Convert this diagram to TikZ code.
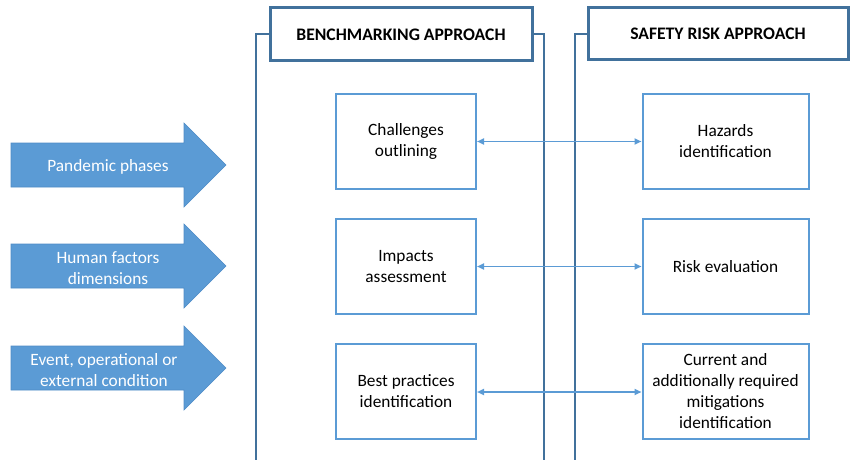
\documentclass[tikz,border=0pt]{standalone}
\usepackage{fontspec}
\setmainfont{Carlito}
\usetikzlibrary{arrows.meta}
\definecolor{hdrblue}{HTML}{41719C}
\definecolor{boxblue}{HTML}{5B9BD5}
\definecolor{arrowfill}{HTML}{5B9BD5}
\definecolor{arrowedge}{HTML}{4F8CC6}
\begin{document}
\begin{tikzpicture}[x=1pt,y=-1pt,
  txt/.style={font=\fontsize{17.3}{21}\selectfont, align=center},
  header/.style={draw=hdrblue, line width=3pt, fill=white, inner sep=0pt,
    font=\fontsize{17.6}{20}\selectfont\bfseries},
  stagebox/.style={draw=boxblue, line width=2pt, fill=white, inner sep=0pt, txt},
  bracket/.style={draw=hdrblue, line width=2pt},
  link/.style={draw=boxblue, line width=1.8pt,
    {Triangle[length=7pt,width=6pt]}-{Triangle[length=7pt,width=6pt]}},
  bigarrow/.style={fill=arrowfill, draw=arrowedge, line width=0.6pt},
  arrowtext/.style={font=\fontsize{17.3}{21}\selectfont, align=center, text=white}
]
\useasboundingbox (0,0) rectangle (851,460);

% column brackets
\path[bracket] (270,34) -- (256,34) -- (256,462);
\path[bracket] (532,34) -- (544,34) -- (544,462);
\path[bracket] (588,34) -- (575,34) -- (575,462);

% column headers
\node[header, minimum width=262pt, minimum height=53pt] (bm) at (401,34.5) {BENCHMARKING APPROACH};
\node[header, minimum width=260pt, minimum height=52pt] (sr) at (718,34) {SAFETY RISK APPROACH};

% benchmarking stages
\node[stagebox, minimum width=140pt, minimum height=95pt] (c1) at (406,141.5) {Challenges\\outlining};
\node[stagebox, minimum width=140pt, minimum height=95pt] (c2) at (406,266.5) {Impacts\\assessment};
\node[stagebox, minimum width=140pt, minimum height=95pt] (c3) at (406,391) {Best practices\\identification};

% safety risk stages
\node[stagebox, minimum width=166pt, minimum height=95pt] (h1) at (725.5,141.5) {Hazards\\identification};
\node[stagebox, minimum width=166pt, minimum height=95pt] (h2) at (725.5,266.5) {Risk evaluation};
\node[stagebox, minimum width=166pt, minimum height=95pt] (h3) at (725.5,391) {Current and\\additionally required\\mitigations\\identification};

% correspondences
\draw[link] (c1.east) -- (h1.west);
\draw[link] (c2.east) -- (h2.west);
\draw[link] ([yshift=-1pt]c3.east) -- ([yshift=-1pt]h3.west);

% input arrows
\foreach \cy in {165, 266, 368}{
  \path[bigarrow] (11,\cy-22) -- (184,\cy-22) -- (184,\cy-42) -- (226,\cy)
    -- (184,\cy+42) -- (184,\cy+22) -- (11,\cy+22) -- cycle;
}
\node[arrowtext] (a1) at (108,167) {Pandemic phases};
\node[arrowtext] (a2) at (108,268) {Human factors\\dimensions};
\node[arrowtext] (a3) at (104,370) {Event, operational or\\external condition};
\end{tikzpicture}
\end{document}
